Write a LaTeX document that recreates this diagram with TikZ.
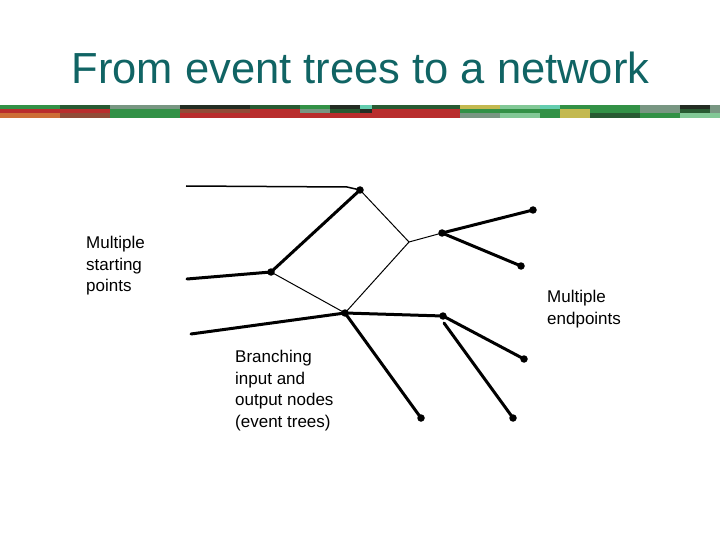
\documentclass[tikz,border=0pt]{standalone}
\usepackage{fontspec}
\setmainfont{Liberation Sans}
\definecolor{titlecol}{RGB}{16,100,100}
\definecolor{bG}{RGB}{50,145,70}
\definecolor{bDG}{RGB}{40,90,50}
\definecolor{bR}{RGB}{185,45,45}
\definecolor{bO}{RGB}{205,110,55}
\definecolor{bGr}{RGB}{120,150,130}
\definecolor{bLG}{RGB}{130,200,150}
\definecolor{bY}{RGB}{195,185,80}
\definecolor{bC}{RGB}{100,205,175}
\definecolor{bK}{RGB}{35,45,35}
\definecolor{bBr}{RGB}{145,75,55}
\tikzset{
  dot/.style={circle,fill=black,inner sep=0pt,minimum size=7.5pt},
  thick line/.style={line width=3pt,line cap=round},
  thin line/.style={line width=1pt},
  mid line/.style={line width=1.5pt},
  lbl/.style={anchor=north west,inner sep=0pt,align=left,font=\fontsize{17}{21.7}\selectfont}
}
\begin{document}
\begin{tikzpicture}[x=1pt,y=-1pt]
\useasboundingbox (0,0) rectangle (720,540);
\fill[white] (0,0) rectangle (720,540);
% title
\node[text=titlecol,font=\fontsize{43.5}{50}\selectfont,inner sep=0pt] (title) at (360.5,68) {From event trees to a network};
% banner strip
\foreach \a/\b/\t/\m/\l in {
 0/60/bG/bR/bO, 60/110/bDG/bR/bBr, 110/180/bGr/bG/bG, 180/250/bK/bBr/bR,
 250/300/bDG/bR/bR, 300/330/bG/bGr/bR, 330/360/bK/bDG/bR, 360/372/bC/bK/bR,
 372/460/bDG/bR/bR, 460/500/bY/bG/bGr, 500/540/bLG/bG/bLG, 540/560/bC/bG/bG,
 560/590/bG/bY/bY, 590/640/bG/bG/bDG, 640/680/bGr/bGr/bG, 680/710/bK/bDG/bLG,
 710/720/bGr/bGr/bLG}{
  \fill[\t] (\a,105) rectangle (\b,109.5);
  \fill[\m] (\a,109.5) rectangle (\b,113.5);
  \fill[\l] (\a,113.5) rectangle (\b,118);
}
% nodes
\node[dot] (A) at (360,190) {};
\node[dot] (B) at (271,272) {};
\node[dot] (D) at (345,313) {};
\node[dot] (C) at (442,233) {};
\node[dot] (E) at (443,316) {};
\node[dot] (C1) at (533,210) {};
\node[dot] (C2) at (521,266) {};
\node[dot] (E1) at (524,359) {};
\node[dot] (E2) at (513,418) {};
\node[dot] (D1) at (421,418) {};
\coordinate (J) at (409,242);
\coordinate (s1) at (186,186);
\coordinate (s1b) at (347,187);
\coordinate (s2) at (187,279);
\coordinate (s3) at (191,334);
\coordinate (Eb) at (444,323);
% connectors
\draw[mid line] (s1) -- (s1b) -- (A.center);
\draw[thick line] (s2) -- (B.center);
\draw[thick line] (B.center) -- (A.center);
\draw[thick line] (s3) -- (D.center);
\draw[thin line] (A.center) -- (J);
\draw[thin line] (B.center) -- (D.center);
\draw[thin line] (D.center) -- (J);
\draw[thin line] (J) -- (C.center);
\draw[thick line] (C.center) -- (C1.center);
\draw[thick line] (C.center) -- (C2.center);
\draw[thick line] (D.center) -- (E.center);
\draw[thick line] (D.center) -- (D1.center);
\draw[thick line] (E.center) -- (E1.center);
\draw[thick line] (Eb) -- (E2.center);
% labels
\node[lbl] (l1) at (86,235.8) {Multiple\\starting\\points};
\node[lbl] (l2) at (547,289.8) {Multiple\\endpoints};
\node[lbl] (l3) at (235,349.8) {Branching\\input and\\output nodes\\(event trees)};
\end{tikzpicture}
\end{document}
